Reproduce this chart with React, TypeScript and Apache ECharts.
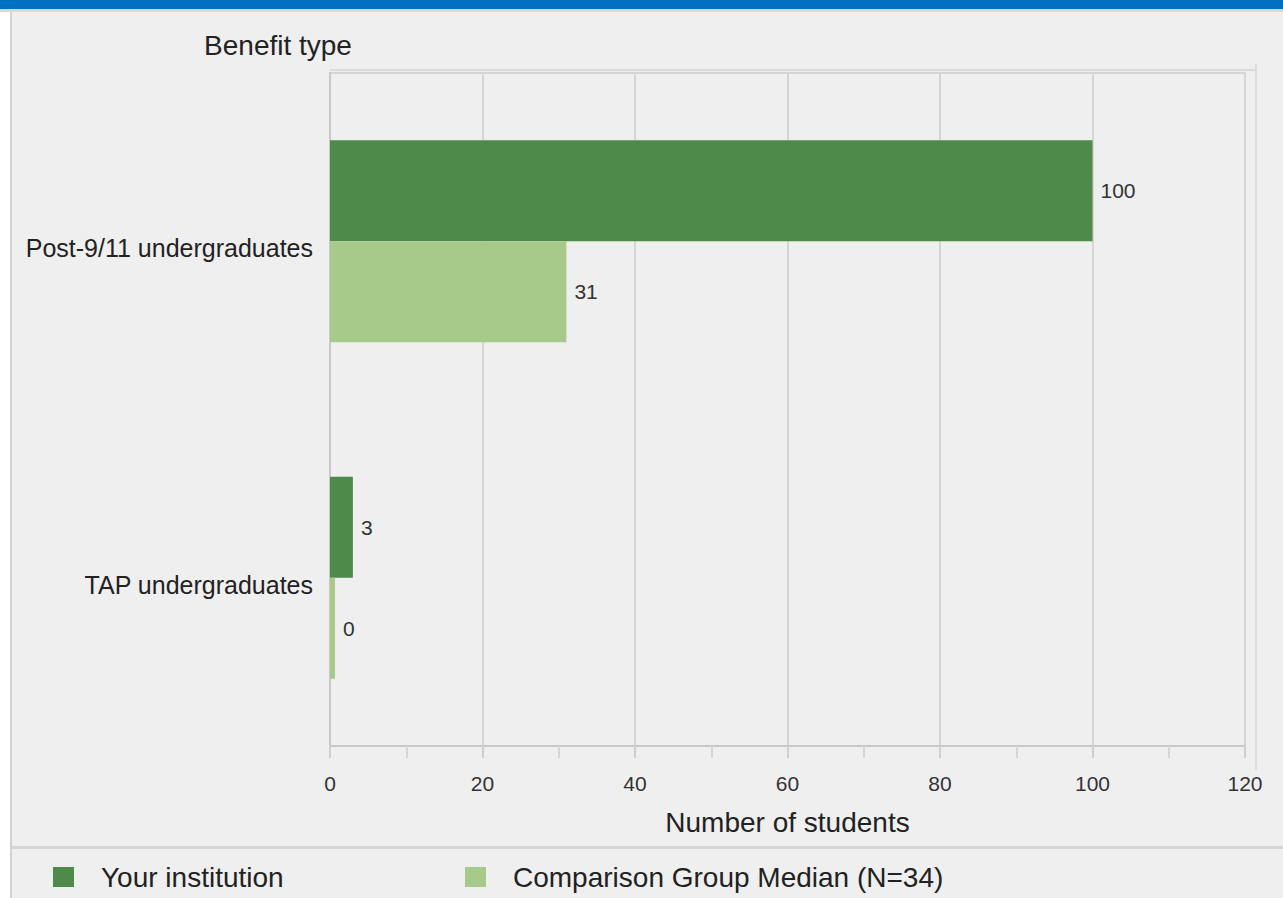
import React, { useEffect, useRef } from "react";
import * as echarts from "echarts";

const categories = ["Post-9/11 undergraduates", "TAP undergraduates"];
const seriesNames = ["Your institution", "Comparison Group Median (N=34)"];
const yourInstitution = [100, 3];
const comparisonMedian = [31, 0];
const axisMin = 0;
const axisMax = 120;
const axisInterval = 20;
const xAxisTitle = "Number of students";
const yAxisTitle = "Benefit type";

const FONT = "'Liberation Sans', Arial, sans-serif";
const DARK = "#4e8a4a";
const LIGHT = "#a7ca8b";
const GRIDC = "#d5d5d5";

export default function App() {
  const ref = useRef<HTMLDivElement>(null);
  useEffect(() => {
    if (!ref.current) return;
    const chart = echarts.init(ref.current, null, { renderer: "svg" });
    chart.setOption({
      animation: false,
      backgroundColor: "#efefef",
      textStyle: { fontFamily: FONT },
      graphic: [
        { type: "rect", shape: { x: 0, y: 0, width: 1283, height: 9 }, style: { fill: "#0070c0" }, silent: true },
        { type: "rect", shape: { x: 0, y: 9, width: 1283, height: 3 }, style: { fill: "#d8d8d8" }, silent: true },
        { type: "rect", shape: { x: 0, y: 12, width: 10, height: 886 }, style: { fill: "#ffffff" }, silent: true },
        { type: "rect", shape: { x: 10, y: 12, width: 2, height: 886 }, style: { fill: "#d2d2d2" }, silent: true },
        { type: "rect", shape: { x: 12, y: 846, width: 1271, height: 3 }, style: { fill: "#d6d6d6" }, silent: true },
        { type: "line", shape: { x1: 1256, y1: 64, x2: 1256, y2: 770 }, style: { stroke: "#dcdcdc", lineWidth: 2 }, silent: true },
        { type: "line", shape: { x1: 330, y1: 70, x2: 1256, y2: 70 }, style: { stroke: "#dadada", lineWidth: 2 }, silent: true },
        {
          type: "text",
          x: 278,
          y: 45,
          style: { text: yAxisTitle, font: `28px ${FONT}`, fill: "#222", textAlign: "center", textVerticalAlign: "middle" },
          silent: true,
        },
      ],
      legend: [
        {
          data: [seriesNames[0]],
          left: 48,
          top: 858,
          icon: "rect",
          itemWidth: 21,
          itemHeight: 20,
          textStyle: { fontSize: 28, color: "#222", fontFamily: FONT, padding: [0, 0, 0, 22] },
        },
        {
          data: [seriesNames[1]],
          left: 460,
          top: 858,
          icon: "rect",
          itemWidth: 21,
          itemHeight: 20,
          textStyle: { fontSize: 28, color: "#222", fontFamily: FONT, padding: [0, 0, 0, 22] },
        },
      ],
      grid: {
        left: 330,
        right: 38,
        top: 73,
        bottom: 152,
        show: true,
        borderColor: GRIDC,
        borderWidth: 2,
        backgroundColor: "transparent",
      },
      xAxis: {
        type: "value",
        min: axisMin,
        max: axisMax,
        interval: axisInterval,
        name: xAxisTitle,
        nameLocation: "middle",
        nameGap: 62,
        nameTextStyle: { fontSize: 28, color: "#222", fontFamily: FONT },
        axisLine: { show: true, lineStyle: { color: "#c8c8c8", width: 2 } },
        axisTick: { show: true, length: 12, lineStyle: { color: "#d0d0d0", width: 2 } },
        minorTick: { show: true, splitNumber: 2, length: 12, lineStyle: { color: "#d6d6d6", width: 2 } },
        splitLine: { show: true, lineStyle: { color: GRIDC, width: 2 } },
        axisLabel: { fontSize: 21, color: "#333", margin: 27, fontFamily: FONT },
      },
      yAxis: {
        type: "category",
        data: categories,
        inverse: true,
        axisLine: { show: true, lineStyle: { color: "#c8c8c8", width: 2 } },
        axisTick: { show: false },
        axisLabel: {
          margin: 17,
          formatter: (v: string) => `{a|${v}}`,
          rich: {
            a: { fontSize: 25, color: "#222", fontFamily: FONT, padding: [14, 0, 0, 0] },
          },
        },
      },
      series: [
        {
          name: seriesNames[0],
          type: "bar",
          data: yourInstitution,
          barGap: "0%",
          barCategoryGap: "40%",
          itemStyle: { color: DARK },
          label: { show: true, position: "right", distance: 8, fontSize: 21, color: "#333", fontFamily: FONT },
        },
        {
          name: seriesNames[1],
          type: "bar",
          data: comparisonMedian,
          barGap: "0%",
          barCategoryGap: "40%",
          barMinHeight: 5,
          itemStyle: { color: LIGHT },
          label: { show: true, position: "right", distance: 8, fontSize: 21, color: "#333", fontFamily: FONT },
        },
      ],
    });
    return () => chart.dispose();
  }, []);
  return (
    <div
      ref={ref}
      style={{ position: "fixed", left: 0, top: 0, width: 1283, height: 898 }}
    />
  );
}
